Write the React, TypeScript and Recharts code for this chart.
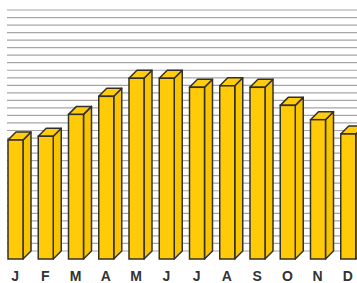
import React from "react";
import { BarChart, Bar, XAxis, YAxis, CartesianGrid } from "recharts";

const months = ["J", "F", "M", "A", "M", "J", "J", "A", "S", "O", "N", "D"];
const values = [15.8, 16.3, 19.2, 21.6, 24.0, 24.0, 22.8, 23.0, 22.8, 20.4, 18.5, 16.6];
const gridTicks = Array.from({ length: 33 }, (_, i) => i);

const data = months.map((m, i) => ({ key: i, month: m, value: values[i] }));

const DEPTH = 8;

const Bar3D = (props: any) => {
  const { x, y, width, height } = props;
  if (height == null || height <= 0) return null;
  const d = DEPTH;
  const stroke = "#33302a";
  return (
    <g>
      <polygon
        points={`${x + width},${y} ${x + width + d},${y - d} ${x + width + d},${y + height - d} ${x + width},${y + height}`}
        fill="#F8C400"
        stroke={stroke}
        strokeWidth={1.5}
        strokeLinejoin="round"
      />
      <polygon
        points={`${x},${y} ${x + d},${y - d} ${x + width + d},${y - d} ${x + width},${y}`}
        fill="#FFCC0E"
        stroke={stroke}
        strokeWidth={1.5}
        strokeLinejoin="round"
      />
      <rect x={x} y={y} width={width} height={height} fill="#FFCA08" stroke={stroke} strokeWidth={1.5} />
    </g>
  );
};

const gridLine = (p: any) => (
  <line
    key={p.key}
    x1={7}
    x2={363}
    y1={p.y1 - DEPTH}
    y2={p.y2 - DEPTH}
    stroke="#a6a6a6"
    strokeWidth={1.2}
  />
);

const App: React.FC = () => {
  return (
    <div
      style={{
        position: "absolute",
        left: 0,
        top: 0,
        width: 357,
        height: 283,
        overflow: "hidden",
        background: "#fff",
      }}
    >
      <BarChart
        width={363}
        height={283}
        data={data}
        margin={{ top: 18, right: 0, bottom: 0, left: 0 }}
        barSize={15}
      >
        <CartesianGrid vertical={false} horizontal={gridLine} />
        <XAxis
          dataKey="key"
          tickFormatter={(i: number) => months[i]}
          axisLine={false}
          tickLine={false}
          height={24}
          tickMargin={6}
          interval={0}
          tick={{
            fill: "#333",
            fontSize: 14,
            fontWeight: "bold",
            fontFamily: "'Liberation Sans', Arial, sans-serif",
          }}
        />
        <YAxis hide domain={[0, 32]} ticks={gridTicks} interval={0} />
        <Bar dataKey="value" shape={Bar3D} isAnimationActive={false} />
      </BarChart>
    </div>
  );
};

export default App;
